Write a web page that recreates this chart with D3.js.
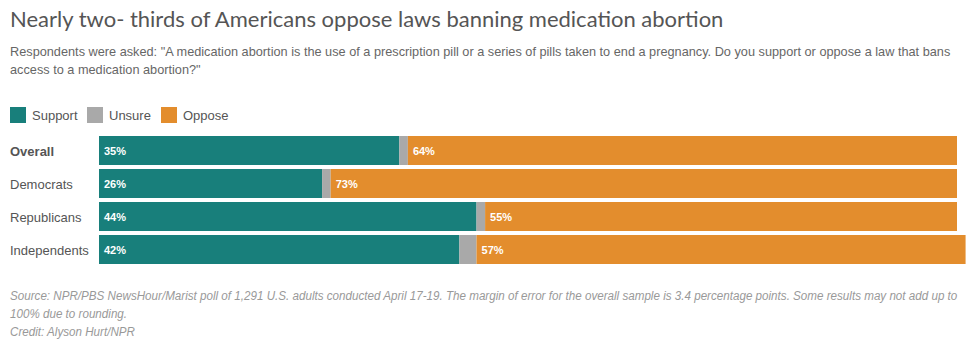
<!DOCTYPE html>
<html>
<head>
<meta charset="utf-8">
<script src="https://cdn.jsdelivr.net/npm/d3@7"></script>
<style>
  html, body { margin: 0; padding: 0; background: #fff; }
  svg { display: block; }
</style>
</head>
<body>
<svg id="chart" width="971" height="347"></svg>
<script>
const categories = ["Overall", "Democrats", "Republicans", "Independents"];
const support = [35, 26, 44, 42];
const unsure = [1, 1, 1, 2];
const oppose = [64, 73, 55, 57];
const seriesNames = ["Support", "Unsure", "Oppose"];
const seriesColors = ["#187f7b", "#a9a9a9", "#e38d2d"];

const titleText = "Nearly two- thirds of Americans oppose laws banning medication abortion";
const subtitleLines = [
  "Respondents were asked: \"A medication abortion is the use of a prescription pill or a series of pills taken to end a pregnancy. Do you support or oppose a law that bans",
  "access to a medication abortion?\""
];
const footerLines = [
  "Source: NPR/PBS NewsHour/Marist poll of 1,291 U.S. adults conducted April 17-19. The margin of error for the overall sample is 3.4 percentage points. Some results may not add up to",
  "100% due to rounding.",
  "Credit: Alyson Hurt/NPR"
];

const svg = d3.select("#chart");

svg.append("text").attr("x", 10).attr("y", 27)
  .attr("font-family", "Lato").attr("font-size", 22).attr("fill", "#555")
  .text(titleText);

// subtitle, horizontally fitted so the first line ends where the reference does
const subG = svg.append("g");
const subs = subG.selectAll(".sub").data(subtitleLines).join("text")
  .attr("x", 0).attr("y", (d, i) => 56 + i * 18)
  .attr("font-family", "Liberation Sans, Arial").attr("font-size", 13).attr("fill", "#666")
  .text(d => d);
const subW = subs.node().getComputedTextLength();
const subK = 941 / subW;
subG.attr("transform", `translate(10,0) scale(${subK},1)`);

// legend
const legendX = [10, 87, 161];
const lg = svg.selectAll(".lg").data(seriesNames).join("g")
  .attr("transform", (d, i) => `translate(${legendX[i]},107)`);
lg.append("rect").attr("width", 16).attr("height", 16).attr("fill", (d, i) => seriesColors[i]);
lg.append("text").attr("x", 22).attr("y", 13)
  .attr("font-family", "Liberation Sans, Arial").attr("font-size", 13).attr("fill", "#555")
  .text(d => d);

const x = d3.scaleLinear().domain([0, 100]).range([99, 957]);
const y = d3.scaleBand().domain(categories).range([136, 264]).paddingInner(4 / 33);

const stackData = categories.map((c, i) => ({ cat: c, Support: support[i], Unsure: unsure[i], Oppose: oppose[i] }));
const stacked = d3.stack().keys(seriesNames)(stackData);

stacked.forEach((layer, si) => {
  svg.selectAll(".bar" + si).data(layer).join("rect")
    .attr("x", d => x(d[0]))
    .attr("y", d => y(d.data.cat))
    .attr("width", d => x(d[1]) - x(d[0]))
    .attr("height", y.bandwidth())
    .attr("fill", seriesColors[si]);
  if (si !== 1) {
    svg.selectAll(".lbl" + si).data(layer).join("text")
      .attr("x", d => x(d[0]) + 5)
      .attr("y", d => y(d.data.cat) + y.bandwidth() / 2 + 4)
      .attr("font-family", "Liberation Sans, Arial").attr("font-size", 11)
      .attr("font-weight", "bold").attr("fill", "#fff")
      .text(d => (d[1] - d[0]) + "%");
  }
});

svg.selectAll(".cat").data(categories).join("text")
  .attr("x", 10).attr("y", d => y(d) + y.bandwidth() / 2 + 5)
  .attr("font-family", "Liberation Sans, Arial").attr("font-size", 13)
  .attr("font-weight", (d, i) => i === 0 ? "bold" : "normal")
  .attr("fill", "#555")
  .text(d => d);

// footer, condensed horizontally to mimic the narrow italic face
const footG = svg.append("g");
const foots = footG.selectAll(".foot").data(footerLines).join("text")
  .attr("x", 0).attr("y", (d, i) => 300 + i * 18)
  .attr("font-family", "Liberation Sans, Arial").attr("font-size", 12)
  .attr("font-style", "italic").attr("fill", "#999")
  .text(d => d);
const footW = foots.node().getComputedTextLength();
const footK = 948 / footW;
footG.attr("transform", `translate(10,0) scale(${footK},1)`);
</script>
</body>
</html>
